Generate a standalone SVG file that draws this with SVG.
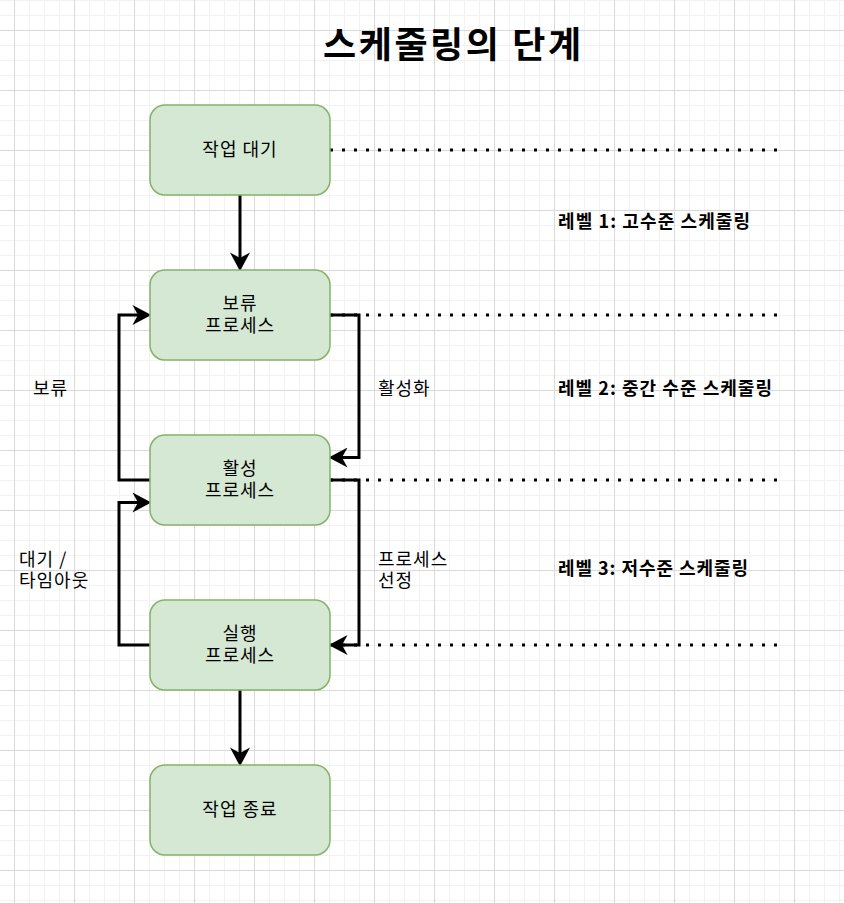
<svg xmlns="http://www.w3.org/2000/svg" width="844" height="903" viewBox="0 0 844 903">
<style>
.node rect{fill:#d5e8d4;stroke:#82b366;stroke-width:1.5}
text{font-family:"Noto Sans CJK KR","Noto Sans",sans-serif;fill:#000}
.nt{font-size:18px;text-anchor:middle;letter-spacing:1px}
.lbl{font-size:18px;letter-spacing:1px}
.lvl{font-size:18px;font-weight:bold}
.title{font-size:36px;font-weight:bold;text-anchor:middle}
.edge{fill:none;stroke:#000;stroke-width:3;stroke-linejoin:miter}
.dot{fill:none;stroke:#000;stroke-width:3;stroke-dasharray:3 9}
</style>
<defs>
<pattern id="grid" patternUnits="userSpaceOnUse" x="14" y="30" width="60" height="60">
<path d="M15.5,0V60M30.5,0V60M45.5,0V60M0,15.5H60M0,30.5H60M0,45.5H60" stroke="#f2f2f2" stroke-width="1" fill="none"/>
<path d="M0.5,0V60M0,0.5H60" stroke="#d9d9d9" stroke-width="1" fill="none"/>
</pattern>
<marker id="arr" markerUnits="userSpaceOnUse" markerWidth="20" markerHeight="20" viewBox="0 0 18 18" refX="5" refY="9" orient="auto">
<path d="M0,0 L17,9 L0,18 L5,9 Z" fill="#000"/>
</marker>
</defs>
<rect width="844" height="903" fill="#fff"/>
<rect width="844" height="903" fill="url(#grid)"/>
<text class="title" x="452" y="58" textLength="258" lengthAdjust="spacing">스케줄링의 단계</text>
<g id="connectors">
<path class="dot" d="M330,150H778"/>
<path class="dot" d="M330,315H778"/>
<path class="dot" d="M330,480H778"/>
<path class="dot" d="M330,645H778"/>
<path class="edge" d="M240,195V258" marker-end="url(#arr)"/>
<path class="edge" d="M330,315H359V457.5H342" marker-end="url(#arr)"/>
<path class="edge" d="M330,480H359V645H342" marker-end="url(#arr)"/>
<path class="edge" d="M150,480H119V315H138" marker-end="url(#arr)"/>
<path class="edge" d="M150,645H119V502.5H138" marker-end="url(#arr)"/>
<path class="edge" d="M240,690V753" marker-end="url(#arr)"/>
</g>
<g id="n-wait" class="node"><rect x="150" y="105" width="180" height="90" rx="15"/><text class="nt" x="240" y="156">작업 대기</text></g>
<g id="n-hold" class="node"><rect x="150" y="270" width="180" height="90" rx="15"/><text class="nt" x="240" y="310">보류<tspan x="240" dy="21.5">프로세스</tspan></text></g>
<g id="n-active" class="node"><rect x="150" y="435" width="180" height="90" rx="15"/><text class="nt" x="240" y="475">활성<tspan x="240" dy="21.5">프로세스</tspan></text></g>
<g id="n-run" class="node"><rect x="150" y="600" width="180" height="90" rx="15"/><text class="nt" x="240" y="640">실행<tspan x="240" dy="21.5">프로세스</tspan></text></g>
<g id="n-end" class="node"><rect x="150" y="765" width="180" height="90" rx="15"/><text class="nt" x="240" y="816">작업 종료</text></g>
<g id="labels">
<text class="lbl" x="378" y="395">활성화</text>
<text class="lbl" x="378" y="566">프로세스<tspan x="378" dy="21">선정</tspan></text>
<text class="lbl" x="33" y="395">보류</text>
<text class="lbl" x="19" y="566">대기 /<tspan x="19" dy="21">타임아웃</tspan></text>
<text class="lvl" x="558" y="228" textLength="192" lengthAdjust="spacing">레벨 1: 고수준 스케줄링</text>
<text class="lvl" x="558" y="394.5" textLength="214" lengthAdjust="spacing">레벨 2: 중간 수준 스케줄링</text>
<text class="lvl" x="558" y="575" textLength="190" lengthAdjust="spacing">레벨 3: 저수준 스케줄링</text>
</g>
</svg>
